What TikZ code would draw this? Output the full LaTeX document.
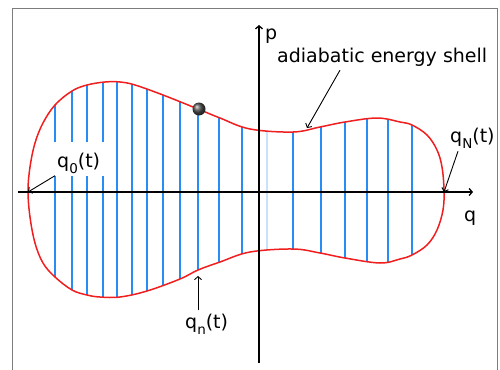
\documentclass[tikz,border=0pt]{standalone}
\usepackage{fontspec}
\setmainfont{DejaVu Sans}
\usepackage{tikz}
\usetikzlibrary{arrows.meta}
\definecolor{shellred}{RGB}{240, 30, 30}
\definecolor{sliceblue}{RGB}{40, 140, 245}
\definecolor{framegray}{RGB}{125, 125, 125}

% closed energy shell in the (q,p) plane
\newcommand{\shellcurve}{plot[smooth cycle, tension=0.6] coordinates {
  (28,191) (30,167) (35,143) (43,123) (55,105) (72,91) (87,85) (105,82)
  (120,82) (135,85) (163,95) (198,109) (220,118) (250,129) (293,132)
  (320,127) (345,122) (377,118) (400,122) (412,125) (427,135) (437,150)
  (442,167) (444,190) (443,210) (437,230) (427,245) (412,255) (400,259)
  (380,263) (345,258) (320,253) (293,249) (250,252) (220,262) (198,270)
  (180,279) (147,291) (120,297) (100,297) (87,295) (72,290) (55,277)
  (43,263) (35,243) (30,217)}}
\newcommand{\qlabel}[1]{q\raisebox{-6pt}{\fontsize{13.5}{13.5}\selectfont #1}(t)}

\begin{document}
\begin{tikzpicture}[
    x=1pt, y=-1pt,
    lbl/.style={anchor=base west, inner sep=3pt, font=\fontsize{19}{19}\selectfont},
    slice/.style={draw=sliceblue, line width=1.5pt},
    shell/.style={draw=shellred, line width=1.5pt},
    axis/.style={-{Straight Barb[length=3pt, width=7pt]}, line width=1.3pt},
    pointer/.style={-{Straight Barb[length=3pt, width=7pt]}, line width=0.9pt}
]
\useasboundingbox (0,0) rectangle (500,369);

% Frame
\draw[framegray, line width=1pt] (12,375) -- (12,9) -- (497.5,9) -- (497.5,375);

% Slices
\begin{scope}
  \clip \shellcurve;
  \foreach \x in {55,72,87,103,117,132,147,163,180,198,219,242,293,321,345,367,388,412}
    \draw[slice] (\x,60) -- (\x,310);
  \draw[slice, draw=sliceblue!25] (267,60) -- (267,310);
\end{scope}

% Shell
\draw[shell] \shellcurve;

% Axes
\coordinate (qstart) at (18,192);
\coordinate (qend) at (473,192);
\coordinate (pstart) at (259,363);
\coordinate (pend) at (259,25);
\draw[axis] (qstart) -- (qend);
\draw[axis] (pstart) -- (pend);
\node[lbl] (plbl) at (262,40) {p};
\node[lbl] (qlbl) at (461,221) {q};

% Labels
\node[lbl] (shelllbl) at (274,63) {adiabatic energy shell};
\node[lbl, fill=white, inner xsep=6pt, inner ysep=3.5pt, text height=22pt, text depth=5pt] (qzero) at (51,167) {\qlabel{0}};
\node[lbl] (qN) at (447,142) {\qlabel{N}};
\node[lbl] (qn) at (182,328) {\qlabel{n}};

% Arrows
\coordinate (shelltip) at (307,128);
\coordinate (qzerotip) at (28,192);
\coordinate (qNtip) at (444,192);
\coordinate (qntip) at (198,276);
\draw[pointer] ([xshift=66pt]shelllbl.south west) -- (shelltip);
\draw[pointer] ([xshift=4pt]qzero.south west) -- (qzerotip);
\draw[pointer] ([xshift=11pt]qN.south west) -- (qNtip);
\draw[pointer] ([xshift=16pt]qn.north west) -- (qntip);

% Particle
\shade[ball color=gray!60!black] (199,109) circle[radius=6.5];

\end{tikzpicture}
\end{document}
